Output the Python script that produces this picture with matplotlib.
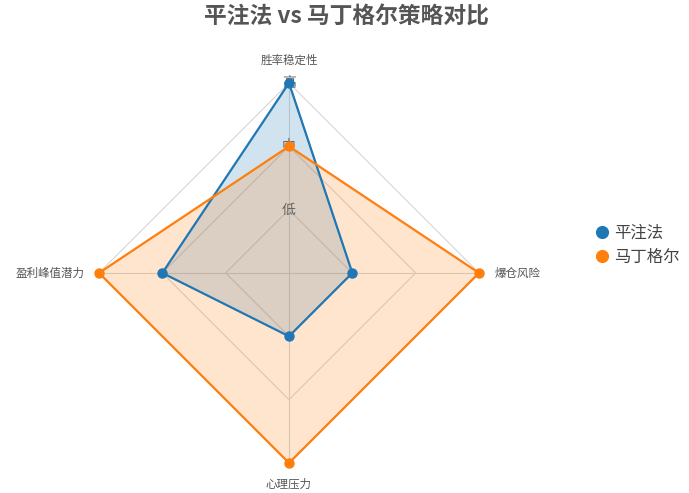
import numpy as np
import matplotlib.pyplot as plt

plt.rcParams['font.family'] = ['Noto Sans CJK SC', 'DejaVu Sans']

# 雷达图数据
categorias = ["胜率稳定性", "爆仓风险", "心理压力", "盈利峰值潜力"]
series = ["平注法", "马丁格尔"]
valores_flat = [3, 1, 1, 2]
valores_martin = [2, 3, 3, 3]
niveles = [1, 2, 3]
etiquetas_nivel = ["低", "中", "高"]
colores = ["#1f77b4", "#ff7f0e"]

fig = plt.figure(figsize=(6.89, 4.93), dpi=100)
ax = fig.add_axes([0.1437, 0.0609, 0.5515, 0.7708], projection="polar")
ax.set_theta_zero_location("N")
ax.set_theta_direction(-1)

n = len(categorias)
angulos = np.linspace(0, 2 * np.pi, n, endpoint=False)
ang_cerrado = np.concatenate([angulos, angulos[:1]])

# rejilla poligonal
ax.grid(False)
ax.spines["polar"].set_visible(False)
for nv in niveles:
    ax.plot(ang_cerrado, [nv] * (n + 1), color="#d6d6d6", lw=0.8, zorder=1)
for a in angulos:
    ax.plot([a, a], [0, niveles[-1]], color="#d6d6d6", lw=0.8, zorder=1)

for nombre, vals, c in zip(series, [valores_flat, valores_martin], colores):
    v = list(vals) + [vals[0]]
    ax.fill(ang_cerrado, v, color=c, alpha=0.2, zorder=2)
    ax.plot(ang_cerrado, v, color=c, lw=1.6, zorder=3, clip_on=False)
    ax.plot(angulos, vals, "o", color=c, ms=6.5, zorder=4, label=nombre, clip_on=False)

# etiquetas de nivel
for nv, et in zip(niveles, etiquetas_nivel):
    ax.text(0, nv, et, ha="center", va="center", fontsize=10, color="#666666", zorder=2.5)

ax.set_ylim(0, 3)
ax.set_yticks([])
ax.set_xticks(angulos)
ax.set_xticklabels([])
offsets = [((0, 16.5), "center"), ((11, 0), "left"), ((0, -15.5), "center"), ((-10, 0), "right")]
for a, ((dx, dy), ha), cat in zip(angulos, offsets, categorias):
    ax.annotate(cat, xy=(a, 3), xytext=(dx, dy), textcoords="offset points",
                ha=ha, va="center", fontsize=8.3, color="#555555", annotation_clip=False)

fig.suptitle("平注法 vs 马丁格尔策略对比", fontsize=16.4, fontweight="bold",
             color="#555555", x=0.503, y=0.99)

fig.legend(loc="center left", bbox_to_anchor=(0.84, 0.502), frameon=False,
           fontsize=11.8, markerscale=1.3, handletextpad=0.25, labelspacing=0.45,
           labelcolor="#444444", handlelength=1.0)

fig.savefig("out.png", dpi=100)
